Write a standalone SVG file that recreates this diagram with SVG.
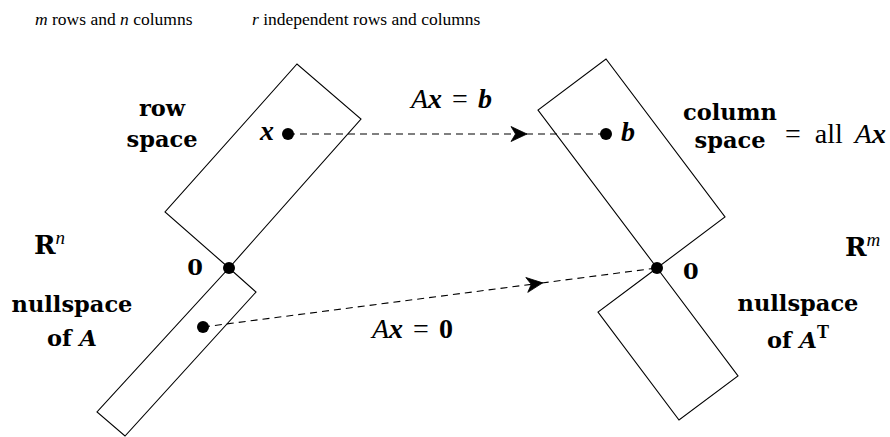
<svg xmlns="http://www.w3.org/2000/svg" width="890" height="437" viewBox="0 0 890 437">
<style>
.sp{fill:#fff;stroke:#000;stroke-width:1.1;stroke-linejoin:miter}
.dot{fill:#000}
.dash{fill:none;stroke:#000;stroke-width:1.1;stroke-dasharray:7 5}
.rm{font-family:"Liberation Serif",serif;font-size:17.5px}
.bf{font-family:"DejaVu Serif",serif;font-weight:bold;font-size:22.5px}
.mt{font-family:"Liberation Serif",serif;font-size:28px}
.it{font-style:italic}
.bi{font-style:italic;font-weight:bold}
.big{font-size:26px}
.sup{font-family:"Liberation Serif",serif;font-style:italic;font-weight:normal;font-size:19px}
.supb{font-family:"Liberation Serif",serif;font-style:normal;font-weight:bold;font-size:18px}
</style>
<defs>
<marker id="arr" markerUnits="userSpaceOnUse" markerWidth="22" markerHeight="22" viewBox="-18 -11 22 22" refX="0" refY="0" orient="auto" overflow="visible">
<path d="M1,0 L-15,-7.5 L-10.5,0 L-15,7.5 Z" fill="#000" stroke="#000" stroke-width="0.8" stroke-linejoin="round"/>
</marker>
</defs>

<g id="labels-top">
<text class="rm" x="35" y="25"><tspan class="it">m</tspan> rows and <tspan class="it">n</tspan> columns</text>
<text class="rm" x="252" y="25"><tspan class="it">r</tspan> independent rows and columns</text>
</g>

<g id="row-space">
<polygon class="sp" points="229,268 165,212 297,64 361,119"/>
<text class="bf" x="162" y="116" text-anchor="middle">row</text>
<text class="bf" x="162" y="147" text-anchor="middle">space</text>
</g>

<g id="nullspace">
<polygon class="sp" points="229,268 256,292 125,436 97,412"/>
<text class="bf" x="72" y="312" text-anchor="middle">nullspace</text>
<text class="bf" x="72" y="346" text-anchor="middle">of <tspan class="bi">A</tspan></text>
</g>

<g id="column-space">
<polygon class="sp" points="657,268 538,110 606,59 725,217"/>
<text class="bf" x="730" y="120" text-anchor="middle">column</text>
<text class="bf" x="730" y="148" text-anchor="middle">space</text>
<text class="mt" x="785" y="143">=<tspan dx="14">all</tspan><tspan class="it" dx="12">A</tspan><tspan class="bi">x</tspan></text>
</g>

<g id="left-nullspace">
<polygon class="sp" points="657,268 598,312 679,420 738,376"/>
<text class="bf" x="798" y="311" text-anchor="middle">nullspace</text>
<text class="bf" x="798" y="348" text-anchor="middle">of <tspan class="bi">A</tspan><tspan class="supb" dy="-10">T</tspan></text>
</g>

<g id="spaces">
<text class="bf big" x="34" y="254">R<tspan class="sup" dy="-10">n</tspan></text>
<text class="bf big" x="845" y="256">R<tspan class="sup" dy="-10">m</tspan></text>
</g>

<g id="connectors">
<path class="dash" d="M288,134 H526" marker-end="url(#arr)"/>
<path class="dash" d="M526,134 H606"/>
<path class="dash" d="M203,327 L541.7,283" marker-end="url(#arr)"/>
<path class="dash" d="M541.7,283 L657,268"/>
<text class="mt" x="411" y="108"><tspan class="it">A</tspan><tspan class="bi">x</tspan><tspan dx="10">=</tspan><tspan class="bi" dx="10">b</tspan></text>
<text class="mt" x="372" y="338"><tspan class="it">A</tspan><tspan class="bi">x</tspan><tspan dx="10">=</tspan><tspan font-weight="bold" dx="10">0</tspan></text>
</g>

<g id="point-x">
<circle class="dot" cx="288" cy="134" r="6"/>
<text class="mt bi" x="274" y="140" text-anchor="end">x</text>
</g>
<g id="point-b">
<circle class="dot" cx="606" cy="134" r="6"/>
<text class="mt bi" x="621" y="141">b</text>
</g>
<g id="point-null">
<circle class="dot" cx="203" cy="327" r="6"/>
</g>
<g id="origin-left">
<circle class="dot" cx="229" cy="268" r="6"/>
<text class="bf" x="203" y="275" text-anchor="end">0</text>
</g>
<g id="origin-right">
<circle class="dot" cx="657" cy="268" r="6"/>
<text class="bf" x="683" y="279">0</text>
</g>
</svg>
